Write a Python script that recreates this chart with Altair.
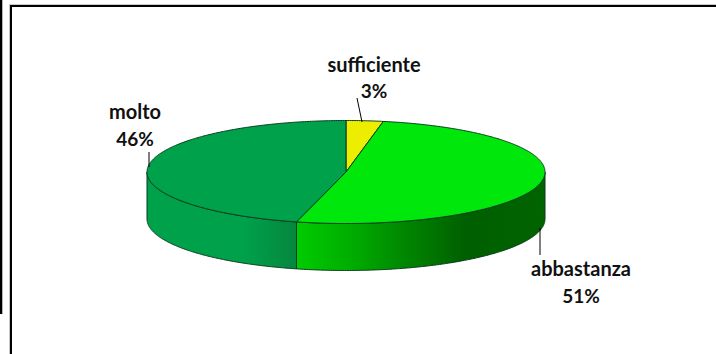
import altair as alt
import numpy as np
import pandas as pd

# Survey answers, clockwise from twelve o'clock
categories = ["sufficiente", "abbastanza", "molto"]
shares = [3, 51, 46]
top_colors = ["#EDED00", "#00E80B", "#00A14B"]

W, H = 716, 354
CX, CY, RX, RY = 346, 172, 199, 51.5
DEPTH = 47 / RY  # wall height in units of the vertical radius
EDGE = "#0B3B1E"

# Pie units: the ellipse spans -1..1 on both axes
x_scale = alt.Scale(domain=[-CX / RX, (W - CX) / RX], range=[0, W], nice=False, zero=False)
y_scale = alt.Scale(domain=[CY / RY, (CY - H) / RY], range=[0, H], nice=False, zero=False)
X = lambda f: alt.X(f, type="quantitative", scale=x_scale, axis=None)
Y = lambda f: alt.Y(f, type="quantitative", scale=y_scale, axis=None)

cuts = np.cumsum([0] + shares) / sum(shares) * 360.0


def top_face(start, end):
    t = np.radians(np.linspace(start, end, int(end - start) * 2 + 2))
    xs = np.concatenate([[0], np.sin(t), [0]])
    ys = np.concatenate([[0], np.cos(t), [0]])
    return pd.DataFrame({"x": xs, "y": ys, "i": range(len(xs))})


def wall(start, end):
    t = np.radians(np.linspace(start, end, int(end - start) * 2 + 2))
    return pd.DataFrame({"x": np.sin(t), "y": np.cos(t), "y2": np.cos(t) - DEPTH})


def x_gradient(stops):
    return alt.Gradient(
        gradient="linear", x1=0, x2=1, y1=0, y2=0,
        stops=[alt.GradientStop(offset=o, color=c) for o, c in stops],
    )


layers = []

# Side walls, only where the rim faces the viewer
green_wall = (
    alt.Chart(wall(90, cuts[2]))
    .mark_area(
        color=x_gradient([(0, "#00CC00"), (0.25, "#00A800"), (0.45, "#008400"),
                          (0.68, "#005F00"), (1, "#006400")]),
        stroke=EDGE, strokeWidth=1,
    )
    .encode(x=X("x"), y=Y("y"), y2=alt.Y2("y2"))
)
molto_wall = (
    alt.Chart(wall(cuts[2], 270))
    .mark_area(
        color=x_gradient([(0, "#00A14B"), (0.65, "#00A14B"), (1, "#05863F")]),
        stroke=EDGE, strokeWidth=1,
    )
    .encode(x=X("x"), y=Y("y"), y2=alt.Y2("y2"))
)
layers += [molto_wall, green_wall]

# Top faces of the three slices
for i, color in enumerate(top_colors):
    layers.append(
        alt.Chart(top_face(cuts[i], cuts[i + 1]))
        .mark_line(fill=color, stroke=EDGE, strokeWidth=1)
        .encode(x=X("x"), y=Y("y"), order=alt.Order("i:Q"))
    )

# Figure frame and the neighbouring panel's edge
blank = alt.Chart(pd.DataFrame({"a": [0]}))
frame = [
    ((9, 716), (4.5, 4.5), "#C8C8C8", 1),
    ((9.5, 9.5), (4, 354), "#C8C8C8", 1),
    ((10, 716), (6, 6), "#000000", 2),
    ((11, 11), (5, 354), "#000000", 2),
    ((1, 1), (0, 314), "#000000", 2.6),
]
for (x0, x1), (y0, y1), col, sw in frame:
    layers.append(
        blank.mark_rule(color=col, strokeWidth=sw).encode(
            x=alt.value(x0), x2=alt.value(x1), y=alt.value(y0), y2=alt.value(y1)
        )
    )

# Leader lines from the labels to their slices
leaders = [((357, 362), (98, 122)), ((149, 149), (152, 167)), ((540, 540), (228, 255))]
for (x0, x1), (y0, y1) in leaders:
    layers.append(
        blank.mark_rule(color="#000000", strokeWidth=1).encode(
            x=alt.value(x0), x2=alt.value(x1), y=alt.value(y0), y2=alt.value(y1)
        )
    )

# Two-line labels: category name over percentage
label_at = {"sufficiente": (374, 72, 98), "molto": (135, 119, 146), "abbastanza": (581, 276, 303)}
for name, share in zip(categories, shares):
    cx, y_name, y_share = label_at[name]
    for text, y, size in ((name, y_name, 20), (f"{share}%", y_share, 19)):
        layers.append(
            alt.Chart(pd.DataFrame({"t": [text]}))
            .mark_text(font="Lato", fontWeight="bold", fontSize=size, color="#111111",
                       align="center", baseline="alphabetic")
            .encode(x=alt.value(cx), y=alt.value(y), text="t:N")
        )

chart = (
    alt.layer(*layers)
    .properties(width=W, height=H, padding=0, autosize=alt.AutoSizeParams(type="none"), background="#FFFFFF")
    .configure_view(stroke=None)
)

chart.save("out.html", embed_options={"renderer": "svg", "actions": False})
